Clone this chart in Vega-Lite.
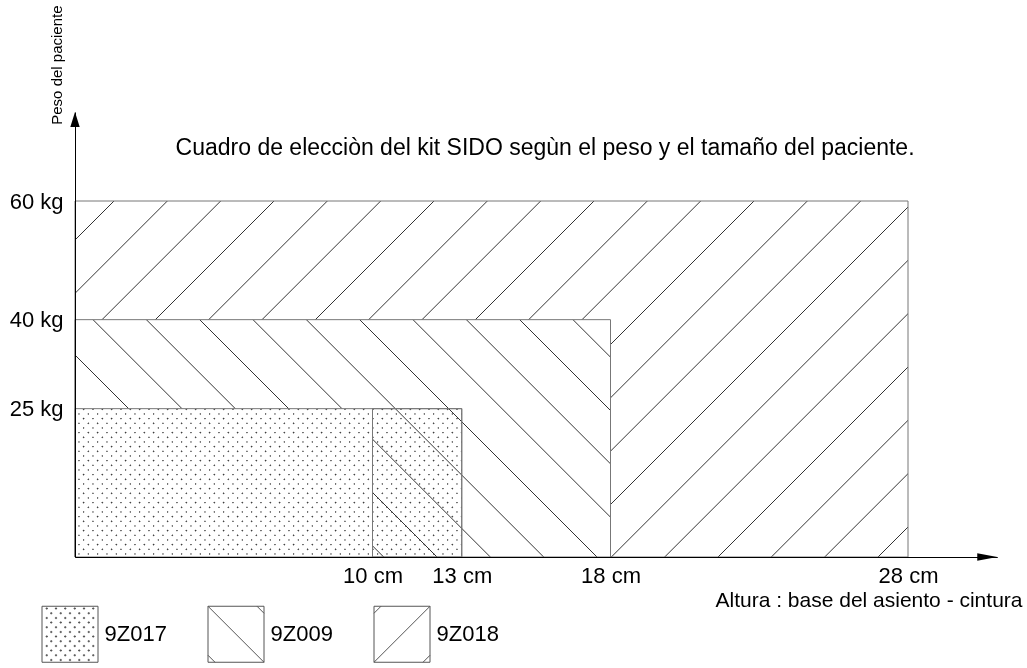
{
  "$schema": "https://vega.github.io/schema/vega-lite/v6.json",
  "autosize": {"type": "none"},
  "width": 922.25,
  "height": 445,
  "padding": {"left": 75, "top": 112, "right": 29.75, "bottom": 111},
  "background": "white",
  "config": {
    "view": {"stroke": null},
    "font": "Liberation Sans",
    "axis": {"labelFont": "Liberation Sans", "titleFont": "Liberation Sans"},
    "legend": {"labelFont": "Liberation Sans"}
  },
  "data": {
    "values": [
      {"kit": "9Z018", "desde_cm": 0, "hasta_cm": 28, "desde_kg": 0, "hasta_kg": 60},
      {"kit": "9Z009", "desde_cm": 0, "hasta_cm": 18, "desde_kg": 0, "hasta_kg": 40},
      {"kit": "9Z017", "desde_cm": 0, "hasta_cm": 13, "desde_kg": 0, "hasta_kg": 25},
      {"kit": "9Z017 + 9Z009", "desde_cm": 10, "hasta_cm": 13, "desde_kg": 0, "hasta_kg": 25}
    ]
  },
  "layer": [
    {
      "transform": [{"filter": "datum.kit === '9Z018'"}],
      "mark": {
        "type": "rect", "opacity": 1, "stroke": "#777777", "strokeWidth": 1,
        "fill": {
          "gradient": "linear", "x1": 0, "y1": 0, "x2": 1.20693, "y2": 0.51581,
          "stops": [
            {"offset": 0.031960, "color": "#ffffff"}, {"offset": 0.032801, "color": "#333333"}, {"offset": 0.033642, "color": "#ffffff"},
            {"offset": 0.076816, "color": "#ffffff"}, {"offset": 0.077657, "color": "#333333"}, {"offset": 0.078498, "color": "#ffffff"},
            {"offset": 0.121671, "color": "#ffffff"}, {"offset": 0.122512, "color": "#333333"}, {"offset": 0.123353, "color": "#ffffff"},
            {"offset": 0.166527, "color": "#ffffff"}, {"offset": 0.167368, "color": "#333333"}, {"offset": 0.168209, "color": "#ffffff"},
            {"offset": 0.211382, "color": "#ffffff"}, {"offset": 0.212223, "color": "#333333"}, {"offset": 0.213064, "color": "#ffffff"},
            {"offset": 0.256238, "color": "#ffffff"}, {"offset": 0.257079, "color": "#333333"}, {"offset": 0.257920, "color": "#ffffff"},
            {"offset": 0.301094, "color": "#ffffff"}, {"offset": 0.301935, "color": "#333333"}, {"offset": 0.302776, "color": "#ffffff"},
            {"offset": 0.345949, "color": "#ffffff"}, {"offset": 0.346790, "color": "#333333"}, {"offset": 0.347631, "color": "#ffffff"},
            {"offset": 0.390805, "color": "#ffffff"}, {"offset": 0.391646, "color": "#333333"}, {"offset": 0.392487, "color": "#ffffff"},
            {"offset": 0.435660, "color": "#ffffff"}, {"offset": 0.436501, "color": "#333333"}, {"offset": 0.437342, "color": "#ffffff"},
            {"offset": 0.480516, "color": "#ffffff"}, {"offset": 0.481357, "color": "#333333"}, {"offset": 0.482198, "color": "#ffffff"},
            {"offset": 0.525372, "color": "#ffffff"}, {"offset": 0.526213, "color": "#333333"}, {"offset": 0.527054, "color": "#ffffff"},
            {"offset": 0.570227, "color": "#ffffff"}, {"offset": 0.571068, "color": "#333333"}, {"offset": 0.571909, "color": "#ffffff"},
            {"offset": 0.615083, "color": "#ffffff"}, {"offset": 0.615924, "color": "#333333"}, {"offset": 0.616765, "color": "#ffffff"},
            {"offset": 0.659938, "color": "#ffffff"}, {"offset": 0.660779, "color": "#333333"}, {"offset": 0.661620, "color": "#ffffff"},
            {"offset": 0.704794, "color": "#ffffff"}, {"offset": 0.705635, "color": "#333333"}, {"offset": 0.706476, "color": "#ffffff"},
            {"offset": 0.749650, "color": "#ffffff"}, {"offset": 0.750491, "color": "#333333"}, {"offset": 0.751332, "color": "#ffffff"},
            {"offset": 0.794505, "color": "#ffffff"}, {"offset": 0.795346, "color": "#333333"}, {"offset": 0.796187, "color": "#ffffff"},
            {"offset": 0.839361, "color": "#ffffff"}, {"offset": 0.840202, "color": "#333333"}, {"offset": 0.841043, "color": "#ffffff"},
            {"offset": 0.884216, "color": "#ffffff"}, {"offset": 0.885057, "color": "#333333"}, {"offset": 0.885898, "color": "#ffffff"},
            {"offset": 0.929072, "color": "#ffffff"}, {"offset": 0.929913, "color": "#333333"}, {"offset": 0.930754, "color": "#ffffff"},
            {"offset": 0.973928, "color": "#ffffff"}, {"offset": 0.974769, "color": "#333333"}, {"offset": 0.975610, "color": "#ffffff"}
          ]
        }
      },
      "encoding": {
        "x": {
          "field": "desde_cm", "type": "quantitative",
          "scale": {"domain": [0, 31], "nice": false, "zero": false},
          "axis": {
            "values": [10, 13, 18, 28], "labelExpr": "datum.value + ' cm'",
            "ticks": false, "grid": false, "domainColor": "black", "domainWidth": 1,
            "labelFontSize": 22, "labelColor": "black", "labelPadding": 8,
            "labelOverlap": false, "labelFlush": false, "labelBound": false,
            "title": "Altura : base del asiento - cintura", "titleFontSize": 21,
            "titleFontWeight": "normal", "titleColor": "black",
            "titleX": 947, "titleY": 49, "titleAlign": "right", "titleBaseline": "alphabetic",
            "zindex": 1
          }
        },
        "x2": {"field": "hasta_cm"},
        "y": {
          "field": "desde_kg", "type": "quantitative",
          "scale": {"domain": [0, 75], "nice": false, "zero": false},
          "axis": {
            "values": [25, 40, 60], "labelExpr": "datum.value + ' kg'",
            "ticks": false, "grid": false, "domainColor": "black", "domainWidth": 1,
            "labelFontSize": 22, "labelColor": "black", "labelPadding": 12,
            "labelOverlap": false, "labelFlush": false, "labelBound": false,
            "title": "Peso del paciente", "titleFontSize": 15, "titleFontWeight": "normal",
            "titleColor": "black", "titleAngle": 270, "titleX": -19, "titleY": -47.4,
            "titleAlign": "center", "titleBaseline": "middle",
            "zindex": 1
          }
        },
        "y2": {"field": "hasta_kg"}
      }
    },
    {
      "transform": [{"filter": "datum.kit === '9Z009'"}],
      "mark": {
        "type": "rect", "opacity": 1, "stroke": "#777777", "strokeWidth": 1,
        "fill": {
          "gradient": "linear", "x1": 0, "y1": 1, "x2": 1.20626, "y2": 0.465393,
          "stops": [
            {"offset": 0.053052, "color": "#ffffff"}, {"offset": 0.054346, "color": "#333333"}, {"offset": 0.055640, "color": "#ffffff"},
            {"offset": 0.122062, "color": "#ffffff"}, {"offset": 0.123356, "color": "#333333"}, {"offset": 0.124650, "color": "#ffffff"},
            {"offset": 0.191072, "color": "#ffffff"}, {"offset": 0.192366, "color": "#333333"}, {"offset": 0.193660, "color": "#ffffff"},
            {"offset": 0.260082, "color": "#ffffff"}, {"offset": 0.261376, "color": "#333333"}, {"offset": 0.262670, "color": "#ffffff"},
            {"offset": 0.329092, "color": "#ffffff"}, {"offset": 0.330386, "color": "#333333"}, {"offset": 0.331680, "color": "#ffffff"},
            {"offset": 0.398102, "color": "#ffffff"}, {"offset": 0.399396, "color": "#333333"}, {"offset": 0.400690, "color": "#ffffff"},
            {"offset": 0.467112, "color": "#ffffff"}, {"offset": 0.468406, "color": "#333333"}, {"offset": 0.469700, "color": "#ffffff"},
            {"offset": 0.536122, "color": "#ffffff"}, {"offset": 0.537416, "color": "#333333"}, {"offset": 0.538710, "color": "#ffffff"},
            {"offset": 0.605132, "color": "#ffffff"}, {"offset": 0.606426, "color": "#333333"}, {"offset": 0.607720, "color": "#ffffff"},
            {"offset": 0.674142, "color": "#ffffff"}, {"offset": 0.675436, "color": "#333333"}, {"offset": 0.676730, "color": "#ffffff"},
            {"offset": 0.743152, "color": "#ffffff"}, {"offset": 0.744446, "color": "#333333"}, {"offset": 0.745740, "color": "#ffffff"},
            {"offset": 0.812162, "color": "#ffffff"}, {"offset": 0.813456, "color": "#333333"}, {"offset": 0.814750, "color": "#ffffff"},
            {"offset": 0.881172, "color": "#ffffff"}, {"offset": 0.882466, "color": "#333333"}, {"offset": 0.883760, "color": "#ffffff"},
            {"offset": 0.950182, "color": "#ffffff"}, {"offset": 0.951476, "color": "#333333"}, {"offset": 0.952770, "color": "#ffffff"}
          ]
        }
      },
      "encoding": {
        "x": {"field": "desde_cm", "type": "quantitative"},
        "x2": {"field": "hasta_cm"},
        "y": {"field": "desde_kg", "type": "quantitative"},
        "y2": {"field": "hasta_kg"}
      }
    },
    {
      "transform": [{"filter": "datum.kit === '9Z017'"}],
      "mark": {
        "type": "rect", "opacity": 1, "strokeWidth": 0,
        "fill": {
          "gradient": "linear", "x1": 0, "y1": 0, "x2": 1.20612, "y2": 0.462583,
          "stops": [
            {"offset": 0.014525, "color": "#fff"}, {"offset": 0.017325, "color": "#111"}, {"offset": 0.020125, "color": "#fff"},
            {"offset": 0.031968, "color": "#fff"}, {"offset": 0.034768, "color": "#111"}, {"offset": 0.037568, "color": "#fff"},
            {"offset": 0.049411, "color": "#fff"}, {"offset": 0.052211, "color": "#111"}, {"offset": 0.055011, "color": "#fff"},
            {"offset": 0.066854, "color": "#fff"}, {"offset": 0.069654, "color": "#111"}, {"offset": 0.072454, "color": "#fff"},
            {"offset": 0.084297, "color": "#fff"}, {"offset": 0.087097, "color": "#111"}, {"offset": 0.089897, "color": "#fff"},
            {"offset": 0.101740, "color": "#fff"}, {"offset": 0.104540, "color": "#111"}, {"offset": 0.107340, "color": "#fff"},
            {"offset": 0.119182, "color": "#fff"}, {"offset": 0.121982, "color": "#111"}, {"offset": 0.124782, "color": "#fff"},
            {"offset": 0.136625, "color": "#fff"}, {"offset": 0.139425, "color": "#111"}, {"offset": 0.142225, "color": "#fff"},
            {"offset": 0.154068, "color": "#fff"}, {"offset": 0.156868, "color": "#111"}, {"offset": 0.159668, "color": "#fff"},
            {"offset": 0.171511, "color": "#fff"}, {"offset": 0.174311, "color": "#111"}, {"offset": 0.177111, "color": "#fff"},
            {"offset": 0.188954, "color": "#fff"}, {"offset": 0.191754, "color": "#111"}, {"offset": 0.194554, "color": "#fff"},
            {"offset": 0.206397, "color": "#fff"}, {"offset": 0.209197, "color": "#111"}, {"offset": 0.211997, "color": "#fff"},
            {"offset": 0.223840, "color": "#fff"}, {"offset": 0.226640, "color": "#111"}, {"offset": 0.229440, "color": "#fff"},
            {"offset": 0.241283, "color": "#fff"}, {"offset": 0.244083, "color": "#111"}, {"offset": 0.246883, "color": "#fff"},
            {"offset": 0.258726, "color": "#fff"}, {"offset": 0.261526, "color": "#111"}, {"offset": 0.264326, "color": "#fff"},
            {"offset": 0.276169, "color": "#fff"}, {"offset": 0.278969, "color": "#111"}, {"offset": 0.281769, "color": "#fff"},
            {"offset": 0.293611, "color": "#fff"}, {"offset": 0.296411, "color": "#111"}, {"offset": 0.299211, "color": "#fff"},
            {"offset": 0.311054, "color": "#fff"}, {"offset": 0.313854, "color": "#111"}, {"offset": 0.316654, "color": "#fff"},
            {"offset": 0.328497, "color": "#fff"}, {"offset": 0.331297, "color": "#111"}, {"offset": 0.334097, "color": "#fff"},
            {"offset": 0.345940, "color": "#fff"}, {"offset": 0.348740, "color": "#111"}, {"offset": 0.351540, "color": "#fff"},
            {"offset": 0.363383, "color": "#fff"}, {"offset": 0.366183, "color": "#111"}, {"offset": 0.368983, "color": "#fff"},
            {"offset": 0.380826, "color": "#fff"}, {"offset": 0.383626, "color": "#111"}, {"offset": 0.386426, "color": "#fff"},
            {"offset": 0.398269, "color": "#fff"}, {"offset": 0.401069, "color": "#111"}, {"offset": 0.403869, "color": "#fff"},
            {"offset": 0.415712, "color": "#fff"}, {"offset": 0.418512, "color": "#111"}, {"offset": 0.421312, "color": "#fff"},
            {"offset": 0.433155, "color": "#fff"}, {"offset": 0.435955, "color": "#111"}, {"offset": 0.438755, "color": "#fff"},
            {"offset": 0.450598, "color": "#fff"}, {"offset": 0.453398, "color": "#111"}, {"offset": 0.456198, "color": "#fff"},
            {"offset": 0.468040, "color": "#fff"}, {"offset": 0.470840, "color": "#111"}, {"offset": 0.473640, "color": "#fff"},
            {"offset": 0.485483, "color": "#fff"}, {"offset": 0.488283, "color": "#111"}, {"offset": 0.491083, "color": "#fff"},
            {"offset": 0.502926, "color": "#fff"}, {"offset": 0.505726, "color": "#111"}, {"offset": 0.508526, "color": "#fff"},
            {"offset": 0.520369, "color": "#fff"}, {"offset": 0.523169, "color": "#111"}, {"offset": 0.525969, "color": "#fff"},
            {"offset": 0.537812, "color": "#fff"}, {"offset": 0.540612, "color": "#111"}, {"offset": 0.543412, "color": "#fff"},
            {"offset": 0.555255, "color": "#fff"}, {"offset": 0.558055, "color": "#111"}, {"offset": 0.560855, "color": "#fff"},
            {"offset": 0.572698, "color": "#fff"}, {"offset": 0.575498, "color": "#111"}, {"offset": 0.578298, "color": "#fff"},
            {"offset": 0.590141, "color": "#fff"}, {"offset": 0.592941, "color": "#111"}, {"offset": 0.595741, "color": "#fff"},
            {"offset": 0.607584, "color": "#fff"}, {"offset": 0.610384, "color": "#111"}, {"offset": 0.613184, "color": "#fff"},
            {"offset": 0.625027, "color": "#fff"}, {"offset": 0.627827, "color": "#111"}, {"offset": 0.630627, "color": "#fff"},
            {"offset": 0.642469, "color": "#fff"}, {"offset": 0.645269, "color": "#111"}, {"offset": 0.648069, "color": "#fff"},
            {"offset": 0.659912, "color": "#fff"}, {"offset": 0.662712, "color": "#111"}, {"offset": 0.665512, "color": "#fff"},
            {"offset": 0.677355, "color": "#fff"}, {"offset": 0.680155, "color": "#111"}, {"offset": 0.682955, "color": "#fff"},
            {"offset": 0.694798, "color": "#fff"}, {"offset": 0.697598, "color": "#111"}, {"offset": 0.700398, "color": "#fff"},
            {"offset": 0.712241, "color": "#fff"}, {"offset": 0.715041, "color": "#111"}, {"offset": 0.717841, "color": "#fff"},
            {"offset": 0.729684, "color": "#fff"}, {"offset": 0.732484, "color": "#111"}, {"offset": 0.735284, "color": "#fff"},
            {"offset": 0.747127, "color": "#fff"}, {"offset": 0.749927, "color": "#111"}, {"offset": 0.752727, "color": "#fff"},
            {"offset": 0.764570, "color": "#fff"}, {"offset": 0.767370, "color": "#111"}, {"offset": 0.770170, "color": "#fff"},
            {"offset": 0.782013, "color": "#fff"}, {"offset": 0.784813, "color": "#111"}, {"offset": 0.787613, "color": "#fff"},
            {"offset": 0.799456, "color": "#fff"}, {"offset": 0.802256, "color": "#111"}, {"offset": 0.805056, "color": "#fff"},
            {"offset": 0.816898, "color": "#fff"}, {"offset": 0.819698, "color": "#111"}, {"offset": 0.822498, "color": "#fff"},
            {"offset": 0.834341, "color": "#fff"}, {"offset": 0.837141, "color": "#111"}, {"offset": 0.839941, "color": "#fff"},
            {"offset": 0.851784, "color": "#fff"}, {"offset": 0.854584, "color": "#111"}, {"offset": 0.857384, "color": "#fff"},
            {"offset": 0.869227, "color": "#fff"}, {"offset": 0.872027, "color": "#111"}, {"offset": 0.874827, "color": "#fff"},
            {"offset": 0.886670, "color": "#fff"}, {"offset": 0.889470, "color": "#111"}, {"offset": 0.892270, "color": "#fff"},
            {"offset": 0.904113, "color": "#fff"}, {"offset": 0.906913, "color": "#111"}, {"offset": 0.909713, "color": "#fff"},
            {"offset": 0.921556, "color": "#fff"}, {"offset": 0.924356, "color": "#111"}, {"offset": 0.927156, "color": "#fff"},
            {"offset": 0.938999, "color": "#fff"}, {"offset": 0.941799, "color": "#111"}, {"offset": 0.944599, "color": "#fff"},
            {"offset": 0.956442, "color": "#fff"}, {"offset": 0.959242, "color": "#111"}, {"offset": 0.962042, "color": "#fff"},
            {"offset": 0.973885, "color": "#fff"}, {"offset": 0.976685, "color": "#111"}, {"offset": 0.979485, "color": "#fff"},
            {"offset": 0.991327, "color": "#fff"}, {"offset": 0.994127, "color": "#111"}, {"offset": 0.996927, "color": "#fff"}
          ]
        }
      },
      "encoding": {
        "x": {"field": "desde_cm", "type": "quantitative"},
        "x2": {"field": "hasta_cm"},
        "y": {"field": "desde_kg", "type": "quantitative"},
        "y2": {"field": "hasta_kg"}
      }
    },
    {
      "transform": [{"filter": "datum.kit === '9Z017'"}],
      "mark": {
        "type": "rect", "opacity": 1, "strokeWidth": 0, "blend": "lighten",
        "fill": {
          "gradient": "linear", "x1": 0, "y1": 1, "x2": 1.20612, "y2": 0.537417,
          "stops": [
            {"offset": 0.010282, "color": "#fff"}, {"offset": 0.013082, "color": "#111"}, {"offset": 0.015882, "color": "#fff"},
            {"offset": 0.027725, "color": "#fff"}, {"offset": 0.030525, "color": "#111"}, {"offset": 0.033325, "color": "#fff"},
            {"offset": 0.045168, "color": "#fff"}, {"offset": 0.047968, "color": "#111"}, {"offset": 0.050768, "color": "#fff"},
            {"offset": 0.062611, "color": "#fff"}, {"offset": 0.065411, "color": "#111"}, {"offset": 0.068211, "color": "#fff"},
            {"offset": 0.080054, "color": "#fff"}, {"offset": 0.082854, "color": "#111"}, {"offset": 0.085654, "color": "#fff"},
            {"offset": 0.097497, "color": "#fff"}, {"offset": 0.100297, "color": "#111"}, {"offset": 0.103097, "color": "#fff"},
            {"offset": 0.114939, "color": "#fff"}, {"offset": 0.117739, "color": "#111"}, {"offset": 0.120539, "color": "#fff"},
            {"offset": 0.132382, "color": "#fff"}, {"offset": 0.135182, "color": "#111"}, {"offset": 0.137982, "color": "#fff"},
            {"offset": 0.149825, "color": "#fff"}, {"offset": 0.152625, "color": "#111"}, {"offset": 0.155425, "color": "#fff"},
            {"offset": 0.167268, "color": "#fff"}, {"offset": 0.170068, "color": "#111"}, {"offset": 0.172868, "color": "#fff"},
            {"offset": 0.184711, "color": "#fff"}, {"offset": 0.187511, "color": "#111"}, {"offset": 0.190311, "color": "#fff"},
            {"offset": 0.202154, "color": "#fff"}, {"offset": 0.204954, "color": "#111"}, {"offset": 0.207754, "color": "#fff"},
            {"offset": 0.219597, "color": "#fff"}, {"offset": 0.222397, "color": "#111"}, {"offset": 0.225197, "color": "#fff"},
            {"offset": 0.237040, "color": "#fff"}, {"offset": 0.239840, "color": "#111"}, {"offset": 0.242640, "color": "#fff"},
            {"offset": 0.254483, "color": "#fff"}, {"offset": 0.257283, "color": "#111"}, {"offset": 0.260083, "color": "#fff"},
            {"offset": 0.271926, "color": "#fff"}, {"offset": 0.274726, "color": "#111"}, {"offset": 0.277526, "color": "#fff"},
            {"offset": 0.289368, "color": "#fff"}, {"offset": 0.292168, "color": "#111"}, {"offset": 0.294968, "color": "#fff"},
            {"offset": 0.306811, "color": "#fff"}, {"offset": 0.309611, "color": "#111"}, {"offset": 0.312411, "color": "#fff"},
            {"offset": 0.324254, "color": "#fff"}, {"offset": 0.327054, "color": "#111"}, {"offset": 0.329854, "color": "#fff"},
            {"offset": 0.341697, "color": "#fff"}, {"offset": 0.344497, "color": "#111"}, {"offset": 0.347297, "color": "#fff"},
            {"offset": 0.359140, "color": "#fff"}, {"offset": 0.361940, "color": "#111"}, {"offset": 0.364740, "color": "#fff"},
            {"offset": 0.376583, "color": "#fff"}, {"offset": 0.379383, "color": "#111"}, {"offset": 0.382183, "color": "#fff"},
            {"offset": 0.394026, "color": "#fff"}, {"offset": 0.396826, "color": "#111"}, {"offset": 0.399626, "color": "#fff"},
            {"offset": 0.411469, "color": "#fff"}, {"offset": 0.414269, "color": "#111"}, {"offset": 0.417069, "color": "#fff"},
            {"offset": 0.428912, "color": "#fff"}, {"offset": 0.431712, "color": "#111"}, {"offset": 0.434512, "color": "#fff"},
            {"offset": 0.446355, "color": "#fff"}, {"offset": 0.449155, "color": "#111"}, {"offset": 0.451955, "color": "#fff"},
            {"offset": 0.463797, "color": "#fff"}, {"offset": 0.466597, "color": "#111"}, {"offset": 0.469397, "color": "#fff"},
            {"offset": 0.481240, "color": "#fff"}, {"offset": 0.484040, "color": "#111"}, {"offset": 0.486840, "color": "#fff"},
            {"offset": 0.498683, "color": "#fff"}, {"offset": 0.501483, "color": "#111"}, {"offset": 0.504283, "color": "#fff"},
            {"offset": 0.516126, "color": "#fff"}, {"offset": 0.518926, "color": "#111"}, {"offset": 0.521726, "color": "#fff"},
            {"offset": 0.533569, "color": "#fff"}, {"offset": 0.536369, "color": "#111"}, {"offset": 0.539169, "color": "#fff"},
            {"offset": 0.551012, "color": "#fff"}, {"offset": 0.553812, "color": "#111"}, {"offset": 0.556612, "color": "#fff"},
            {"offset": 0.568455, "color": "#fff"}, {"offset": 0.571255, "color": "#111"}, {"offset": 0.574055, "color": "#fff"},
            {"offset": 0.585898, "color": "#fff"}, {"offset": 0.588698, "color": "#111"}, {"offset": 0.591498, "color": "#fff"},
            {"offset": 0.603341, "color": "#fff"}, {"offset": 0.606141, "color": "#111"}, {"offset": 0.608941, "color": "#fff"},
            {"offset": 0.620784, "color": "#fff"}, {"offset": 0.623584, "color": "#111"}, {"offset": 0.626384, "color": "#fff"},
            {"offset": 0.638226, "color": "#fff"}, {"offset": 0.641026, "color": "#111"}, {"offset": 0.643826, "color": "#fff"},
            {"offset": 0.655669, "color": "#fff"}, {"offset": 0.658469, "color": "#111"}, {"offset": 0.661269, "color": "#fff"},
            {"offset": 0.673112, "color": "#fff"}, {"offset": 0.675912, "color": "#111"}, {"offset": 0.678712, "color": "#fff"},
            {"offset": 0.690555, "color": "#fff"}, {"offset": 0.693355, "color": "#111"}, {"offset": 0.696155, "color": "#fff"},
            {"offset": 0.707998, "color": "#fff"}, {"offset": 0.710798, "color": "#111"}, {"offset": 0.713598, "color": "#fff"},
            {"offset": 0.725441, "color": "#fff"}, {"offset": 0.728241, "color": "#111"}, {"offset": 0.731041, "color": "#fff"},
            {"offset": 0.742884, "color": "#fff"}, {"offset": 0.745684, "color": "#111"}, {"offset": 0.748484, "color": "#fff"},
            {"offset": 0.760327, "color": "#fff"}, {"offset": 0.763127, "color": "#111"}, {"offset": 0.765927, "color": "#fff"},
            {"offset": 0.777770, "color": "#fff"}, {"offset": 0.780570, "color": "#111"}, {"offset": 0.783370, "color": "#fff"},
            {"offset": 0.795213, "color": "#fff"}, {"offset": 0.798013, "color": "#111"}, {"offset": 0.800813, "color": "#fff"},
            {"offset": 0.812655, "color": "#fff"}, {"offset": 0.815455, "color": "#111"}, {"offset": 0.818255, "color": "#fff"},
            {"offset": 0.830098, "color": "#fff"}, {"offset": 0.832898, "color": "#111"}, {"offset": 0.835698, "color": "#fff"},
            {"offset": 0.847541, "color": "#fff"}, {"offset": 0.850341, "color": "#111"}, {"offset": 0.853141, "color": "#fff"},
            {"offset": 0.864984, "color": "#fff"}, {"offset": 0.867784, "color": "#111"}, {"offset": 0.870584, "color": "#fff"},
            {"offset": 0.882427, "color": "#fff"}, {"offset": 0.885227, "color": "#111"}, {"offset": 0.888027, "color": "#fff"},
            {"offset": 0.899870, "color": "#fff"}, {"offset": 0.902670, "color": "#111"}, {"offset": 0.905470, "color": "#fff"},
            {"offset": 0.917313, "color": "#fff"}, {"offset": 0.920113, "color": "#111"}, {"offset": 0.922913, "color": "#fff"},
            {"offset": 0.934756, "color": "#fff"}, {"offset": 0.937556, "color": "#111"}, {"offset": 0.940356, "color": "#fff"},
            {"offset": 0.952199, "color": "#fff"}, {"offset": 0.954999, "color": "#111"}, {"offset": 0.957799, "color": "#fff"},
            {"offset": 0.969642, "color": "#fff"}, {"offset": 0.972442, "color": "#111"}, {"offset": 0.975242, "color": "#fff"},
            {"offset": 0.987084, "color": "#fff"}, {"offset": 0.989884, "color": "#111"}, {"offset": 0.992684, "color": "#fff"}
          ]
        }
      },
      "encoding": {
        "x": {"field": "desde_cm", "type": "quantitative"},
        "x2": {"field": "hasta_cm"},
        "y": {"field": "desde_kg", "type": "quantitative"},
        "y2": {"field": "hasta_kg"}
      }
    },
    {
      "transform": [{"filter": "datum.kit === '9Z017'"}],
      "mark": {"type": "rect", "opacity": 1, "fillOpacity": 0, "stroke": "#777777", "strokeWidth": 1},
      "encoding": {
        "x": {"field": "desde_cm", "type": "quantitative"},
        "x2": {"field": "hasta_cm"},
        "y": {"field": "desde_kg", "type": "quantitative"},
        "y2": {"field": "hasta_kg"}
      }
    },
    {
      "transform": [{"filter": "datum.kit === '9Z017 + 9Z009'"}],
      "mark": {
        "type": "rect", "opacity": 1, "stroke": "#777777", "strokeWidth": 1,
        "fill": {
          "gradient": "linear", "x1": 0, "y1": 1, "x2": 0.707568, "y2": -0.17595,
          "stops": [
            {"offset": 0.042792, "color": "rgba(51,51,51,0)"}, {"offset": 0.047001, "color": "#333333"}, {"offset": 0.051210, "color": "rgba(51,51,51,0)"},
            {"offset": 0.267274, "color": "rgba(51,51,51,0)"}, {"offset": 0.271483, "color": "#333333"}, {"offset": 0.275692, "color": "rgba(51,51,51,0)"},
            {"offset": 0.491756, "color": "rgba(51,51,51,0)"}, {"offset": 0.495965, "color": "#333333"}, {"offset": 0.500174, "color": "rgba(51,51,51,0)"},
            {"offset": 0.716238, "color": "rgba(51,51,51,0)"}, {"offset": 0.720447, "color": "#333333"}, {"offset": 0.724656, "color": "rgba(51,51,51,0)"},
            {"offset": 0.940720, "color": "rgba(51,51,51,0)"}, {"offset": 0.944929, "color": "#333333"}, {"offset": 0.949138, "color": "rgba(51,51,51,0)"}
          ]
        }
      },
      "encoding": {
        "x": {"field": "desde_cm", "type": "quantitative"},
        "x2": {"field": "hasta_cm"},
        "y": {"field": "desde_kg", "type": "quantitative"},
        "y2": {"field": "hasta_kg"}
      }
    },
    {
      "data": {"values": [{"titulo": "Cuadro de elecciòn del kit SIDO segùn el peso y el tamaño del paciente."}]},
      "mark": {"type": "text", "fontSize": 23, "font": "Liberation Sans", "align": "center", "baseline": "alphabetic", "color": "black"},
      "encoding": {
        "text": {"field": "titulo"},
        "x": {"datum": 15.8},
        "y": {"datum": 67.75}
      }
    },
    {
      "data": {"values": [{"eje": "x"}]},
      "mark": {"type": "point", "shape": "M-2,-0.38L0,0L-2,0.38Z", "size": 400, "filled": true, "color": "black", "opacity": 1},
      "encoding": {"x": {"datum": 31}, "y": {"datum": 0}}
    },
    {
      "data": {"values": [{"eje": "y"}]},
      "mark": {"type": "point", "shape": "M-0.47,1.5L0,0L0.47,1.5Z", "size": 400, "filled": true, "color": "black", "opacity": 1},
      "encoding": {"x": {"datum": 0}, "y": {"datum": 75}}
    },
    {
      "data": {"values": [{"kit": "9Z017"}, {"kit": "9Z009"}, {"kit": "9Z018"}]},
      "mark": {"type": "point", "opacity": 0, "filled": false, "color": "#555555", "strokeWidth": 1},
      "encoding": {
        "shape": {
          "field": "kit", "type": "nominal",
          "scale": {
            "domain": ["9Z017", "9Z009", "9Z018"],
            "range": [
              "M-1,-1H1V1H-1ZM-0.87,-0.92h0.08m-0.04,-0.04v0.08M-0.54,-0.92h0.08m-0.04,-0.04v0.08M-0.21,-0.92h0.08m-0.04,-0.04v0.08M0.13,-0.92h0.08m-0.04,-0.04v0.08M0.46,-0.92h0.08m-0.04,-0.04v0.08M0.79,-0.92h0.08m-0.04,-0.04v0.08M-0.71,-0.75h0.08m-0.04,-0.04v0.08M-0.37,-0.75h0.08m-0.04,-0.04v0.08M-0.04,-0.75h0.08m-0.04,-0.04v0.08M0.29,-0.75h0.08m-0.04,-0.04v0.08M0.63,-0.75h0.08m-0.04,-0.04v0.08M-0.87,-0.58h0.08m-0.04,-0.04v0.08M-0.54,-0.58h0.08m-0.04,-0.04v0.08M-0.21,-0.58h0.08m-0.04,-0.04v0.08M0.13,-0.58h0.08m-0.04,-0.04v0.08M0.46,-0.58h0.08m-0.04,-0.04v0.08M0.79,-0.58h0.08m-0.04,-0.04v0.08M-0.71,-0.42h0.08m-0.04,-0.04v0.08M-0.37,-0.42h0.08m-0.04,-0.04v0.08M-0.04,-0.42h0.08m-0.04,-0.04v0.08M0.29,-0.42h0.08m-0.04,-0.04v0.08M0.63,-0.42h0.08m-0.04,-0.04v0.08M-0.87,-0.25h0.08m-0.04,-0.04v0.08M-0.54,-0.25h0.08m-0.04,-0.04v0.08M-0.21,-0.25h0.08m-0.04,-0.04v0.08M0.13,-0.25h0.08m-0.04,-0.04v0.08M0.46,-0.25h0.08m-0.04,-0.04v0.08M0.79,-0.25h0.08m-0.04,-0.04v0.08M-0.71,-0.08h0.08m-0.04,-0.04v0.08M-0.37,-0.08h0.08m-0.04,-0.04v0.08M-0.04,-0.08h0.08m-0.04,-0.04v0.08M0.29,-0.08h0.08m-0.04,-0.04v0.08M0.63,-0.08h0.08m-0.04,-0.04v0.08M-0.87,0.08h0.08m-0.04,-0.04v0.08M-0.54,0.08h0.08m-0.04,-0.04v0.08M-0.21,0.08h0.08m-0.04,-0.04v0.08M0.13,0.08h0.08m-0.04,-0.04v0.08M0.46,0.08h0.08m-0.04,-0.04v0.08M0.79,0.08h0.08m-0.04,-0.04v0.08M-0.71,0.25h0.08m-0.04,-0.04v0.08M-0.37,0.25h0.08m-0.04,-0.04v0.08M-0.04,0.25h0.08m-0.04,-0.04v0.08M0.29,0.25h0.08m-0.04,-0.04v0.08M0.63,0.25h0.08m-0.04,-0.04v0.08M-0.87,0.42h0.08m-0.04,-0.04v0.08M-0.54,0.42h0.08m-0.04,-0.04v0.08M-0.21,0.42h0.08m-0.04,-0.04v0.08M0.13,0.42h0.08m-0.04,-0.04v0.08M0.46,0.42h0.08m-0.04,-0.04v0.08M0.79,0.42h0.08m-0.04,-0.04v0.08M-0.71,0.58h0.08m-0.04,-0.04v0.08M-0.37,0.58h0.08m-0.04,-0.04v0.08M-0.04,0.58h0.08m-0.04,-0.04v0.08M0.29,0.58h0.08m-0.04,-0.04v0.08M0.63,0.58h0.08m-0.04,-0.04v0.08M-0.87,0.75h0.08m-0.04,-0.04v0.08M-0.54,0.75h0.08m-0.04,-0.04v0.08M-0.21,0.75h0.08m-0.04,-0.04v0.08M0.13,0.75h0.08m-0.04,-0.04v0.08M0.46,0.75h0.08m-0.04,-0.04v0.08M0.79,0.75h0.08m-0.04,-0.04v0.08M-0.71,0.92h0.08m-0.04,-0.04v0.08M-0.37,0.92h0.08m-0.04,-0.04v0.08M-0.04,0.92h0.08m-0.04,-0.04v0.08M0.29,0.92h0.08m-0.04,-0.04v0.08M0.63,0.92h0.08m-0.04,-0.04v0.08",
              "M-1,-1H1V1H-1ZM-1,-1L1,1M0.75,-1L1,-0.75M-1,0.75L-0.75,1",
              "M-1,-1H1V1H-1ZM-1,1L1,-1M-1,-0.75L-0.75,-1M0.75,1L1,0.75"
            ]
          },
          "legend": {
            "orient": "none", "legendX": -33.5, "legendY": 493.5, "direction": "horizontal",
            "title": null, "padding": 0, "symbolSize": 3136, "symbolStrokeWidth": 1,
            "symbolStrokeColor": "#555555", "symbolFillColor": "transparent",
            "labelFontSize": 22, "labelColor": "black", "labelOffset": 6, "columnPadding": 38
          }
        }
      }
    }
  ]
}
